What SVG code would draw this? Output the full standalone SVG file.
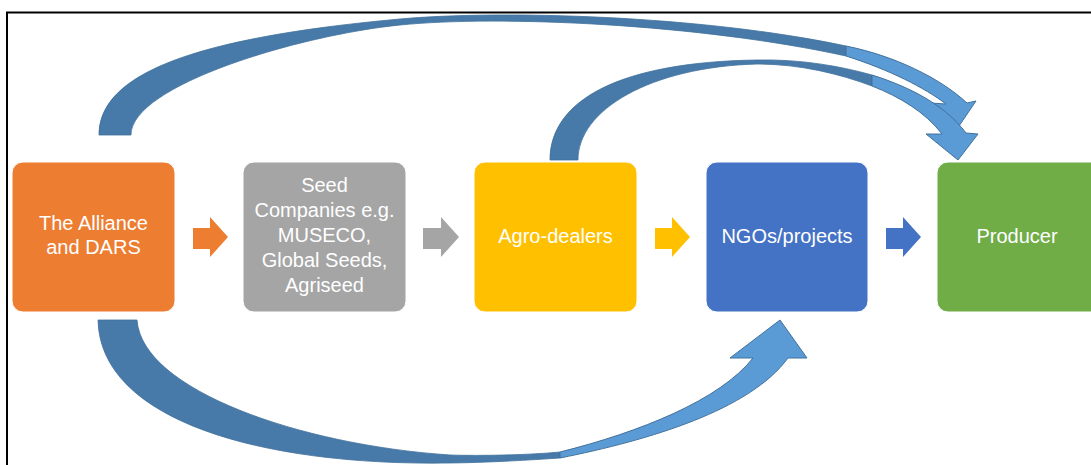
<svg xmlns="http://www.w3.org/2000/svg" width="1091" height="465" viewBox="0 0 1091 465">
  <style>
    .box { stroke: #ffffff; stroke-width: 1; }
    .lbl { font-family: "Liberation Sans", Arial, sans-serif; font-size: 20px; fill: #ffffff; text-anchor: middle; }
    .back { fill: #477AA9; stroke: #41719C; stroke-width: 0.8; }
    .front { fill: #5B9BD5; stroke: #41719C; stroke-width: 1; stroke-linejoin: miter; }
  </style>
  <rect x="0" y="0" width="1091" height="465" fill="#ffffff"/>
  <path d="M7,466 L7,12.5 L1092,12.5" fill="none" stroke="#000000" stroke-width="2"/>

  <g id="n-alliance">
    <rect class="box" x="12" y="162" width="163" height="150" rx="11" fill="#ED7D31"/>
    <text class="lbl" x="93.5" y="230">The Alliance</text>
    <text class="lbl" x="93.5" y="254">and DARS</text>
  </g>
  <g id="n-seed">
    <rect class="box" x="243" y="162" width="163" height="150" rx="11" fill="#A5A5A5"/>
    <text class="lbl" x="324.5" y="192">Seed</text>
    <text class="lbl" x="324.5" y="217">Companies e.g.</text>
    <text class="lbl" x="324.5" y="242">MUSECO,</text>
    <text class="lbl" x="324.5" y="267">Global Seeds,</text>
    <text class="lbl" x="324.5" y="292">Agriseed</text>
  </g>
  <g id="n-agro">
    <rect class="box" x="474" y="162" width="163" height="150" rx="11" fill="#FFC000"/>
    <text class="lbl" x="555.5" y="243">Agro-dealers</text>
  </g>
  <g id="n-ngo">
    <rect class="box" x="706" y="162" width="162" height="150" rx="11" fill="#4472C4"/>
    <text class="lbl" x="787" y="243">NGOs/projects</text>
  </g>
  <g id="n-producer">
    <rect class="box" x="937" y="162" width="170" height="150" rx="11" fill="#70AD47"/>
    <text class="lbl" x="1017" y="243">Producer</text>
  </g>

  <g id="connectors">
    <!-- straight block arrows -->
    <path d="M193,228 L210,228 L210,217 L228,237 L210,257 L210,249 L193,249 Z" fill="#ED7D31"/>
    <path d="M423,228 L441,228 L441,217 L459,237 L441,257 L441,249 L423,249 Z" fill="#A5A5A5"/>
    <path d="M655,228 L672,228 L672,217 L690,237 L672,257 L672,249 L655,249 Z" fill="#FFC000"/>
    <path d="M886,228 L903,228 L903,217 L921,237 L903,257 L903,249 L886,249 Z" fill="#4472C4"/>

    <!-- top curved arrow: Alliance to Producer -->
    <path class="back" d="M99,135 C99,75 190,38 400,19 C500,10 700,15 846,46 L846,56 C700,24 500,15 400,25 C300,35 131,85 131,135 Z"/>
    <path class="front" d="M846,46 C895,56 940,78 967,103 L976,101 L959,126 L930,103 L946,104 C925,88 890,70 846,56 Z"/>

    <!-- upper curved arrow: Agro-dealers to Producer -->
    <path class="back" d="M550,160 C550,100 620,62 757,60 C800,59 840,66 872,75 L872,86 C840,74 800,64 757,64 C650,67 578,110 578,160 Z"/>
    <path class="front" d="M872,75 C910,87 945,105 966,133 L978,134 L958,160 L926,134 L942,134 C925,112 900,97 872,86 Z"/>

    <!-- bottom curved arrow: Alliance to NGOs -->
    <path class="back" d="M98,320 C100,420 260,466 450,463 C490,462.5 530,460 560,458 L560,452 C530,455 480,456 450,455 C300,445 142,390 137,320 Z"/>
    <path class="front" d="M560,458 C650,440 750,410 788,358 L807,358 L780,320 L730,358 L753,358 C720,400 640,432 560,452 Z"/>
  </g>
</svg>
